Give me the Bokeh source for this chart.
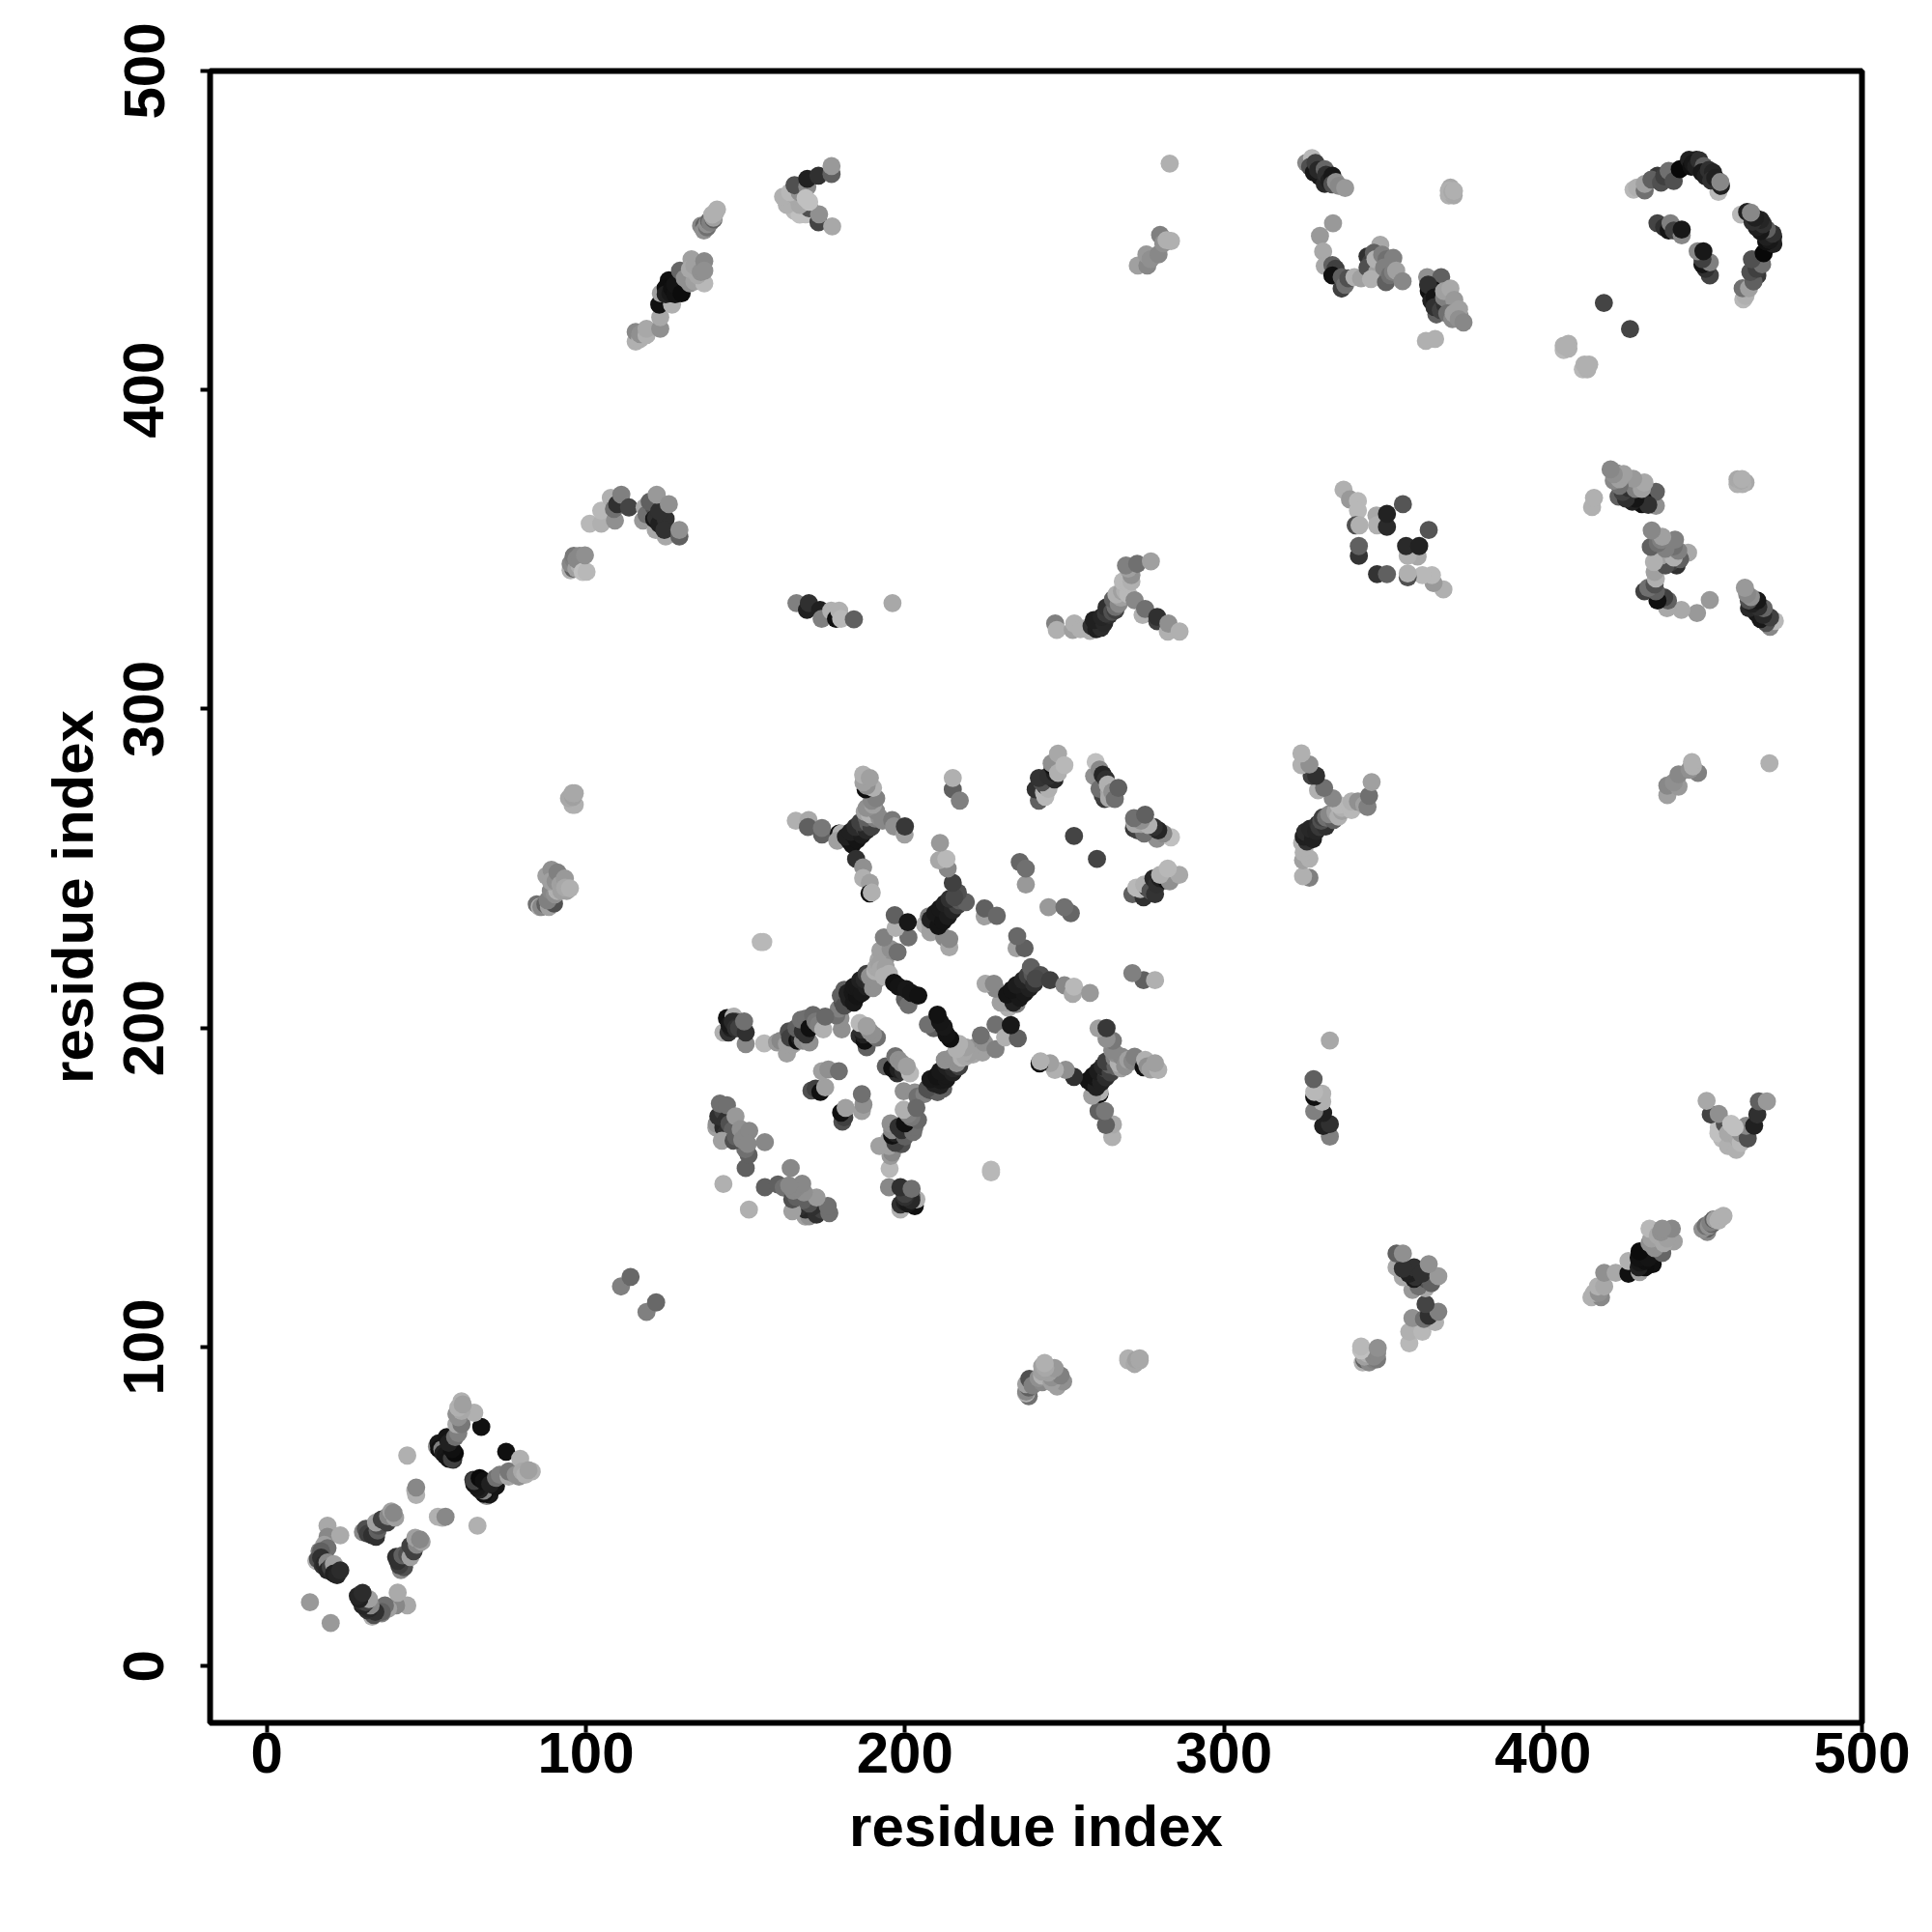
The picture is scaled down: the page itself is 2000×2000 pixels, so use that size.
from bokeh.embed import file_html
from bokeh.models import ColumnDataSource, FixedTicker
from bokeh.plotting import figure
from bokeh.resources import INLINE

# contacts above the diagonal: (residue i, residue j, grey level); the map is symmetric
near_a = [(13.5,20,0x99),(19,44,0xA8),(19,40.5,0x88),(18,38,0xA0),(19,37,0x70),(16.5,36,0x80),(15.5,33,0xB0),(16,33.5,0xA0),(16,33.5,0x50),(17,36,0x60),(17,34,0x30),(17.5,31.5,0x33),(18,32,0x28),(19,32.5,0x88),(19,30,0x25),(20.5,29.5,0x30),(20,31,0x40),(21,32,0xA0),(21,29,0x20),(22,28.5,0x25),(23,30,0x2C),(23,41,0xAA)]
near_b = [(30.1,42,0x88),(31,43,0x50),(31.6,41.5,0x40),(33,41,0x30),(34.2,40.5,0x30),(34.7,42.5,0x60),(35,44,0x50),(34.2,45,0xA0),(36,46,0x40),(37.7,45,0x40),(38,47,0x88),(40.2,46.5,0xA0),(39,48.5,0xA0),(39.7,48,0x88),(46.8,53.6,0xB0),(46.5,55,0xB0),(46.8,56,0x88),(44,66,0xB0)]
near_c = [(58.4,64.7,0x30),(53.3,68.8,0x90),(53.8,69.8,0x18),(54,68,0x10),(55,68,0x80),(55.3,66.7,0x20),(56,66,0x18),(57,65,0x15),(58,65,0x40),(58.9,66.7,0x0A),(58,68,0x10),(56.4,71.8,0x15),(57,70,0x20),(59,71.8,0x70),(60,73,0x80),(59.4,75.8,0xA8),(61,75.8,0x77),(67.2,75,0x10),(59.4,79,0x90),(60,78,0x90),(65,79.4,0xB0),(61,80,0xA8),(60,81,0xB0),(61,83,0xB0),(61.4,82,0xA0)]
near_d = [(111,119,0x80),(114,122,0x68)]
mid_a = [(84.6,238.8,0x70),(85.5,238,0xB0),(86,238,0x88),(87.3,238.8,0x60),(88.4,238,0xA0),(90,239,0x50),(88,240,0x80),(89.6,243.8,0x40),(89,243,0x88),(90.3,241.9,0x90),(91,243,0xB0),(87.6,247.7,0xA0),(89.2,249.6,0x90),(89,246,0xA0),(90.5,246,0x90),(91.1,248.8,0x80),(92,245,0xA0),(93.4,246.9,0x99),(92.3,243,0xA0),(94,243,0xA0),(93.5,244,0xA8),(95,243.8,0xB0),(95.8,270,0xB0),(96.5,270,0xB0),(94.7,272,0xA8),(96,272.5,0xA0),(95.8,273.6,0xA8),(96.5,273.6,0xA8)]
mid_b = [(95.2,343.5,0xB0),(96,344,0x60),(95.2,345.5,0x88),(96,347,0x80),(96.2,348,0x78),(97,344,0xA0),(98,345,0xB0),(97,347,0x88),(98,348,0x88),(99,343,0xC0),(100.2,343,0xB8),(99.7,348.2,0x90),(101.2,358.1,0xB8),(104.8,358.1,0xB0),(104.8,362.2,0xB8),(107.8,366.2,0xB0),(109.1,359.1,0x90),(108.8,362.7,0x70),(109.8,364.2,0x30),(111.1,367.2,0x80),(113.5,363.2,0x44),(117.9,359.1,0x99),(118.4,363.2,0xA8),(121.9,356.1,0xA8),(125,354.1,0xA8),(119,361,0x70),(121.4,363.2,0x50),(120,365,0x60),(121.4,359.6,0x18),(122,360,0x30),(123,358,0x20),(124,358,0x20),(125,359.6,0x30),(123,362,0x30),(124.6,356.1,0x30),(122.2,367.2,0x99),(126,364.2,0x90),(129.3,354.1,0x60),(129.3,356.1,0x90)]
top_a = [(115.6,415.2,0xB0),(115.6,418.2,0x88),(117,416,0xB0),(117,417.5,0x90),(119,417.2,0xB0),(119,419.2,0xA8),(123.3,419.2,0x90),(123.3,422.8,0xA8),(123,426.8,0x10),(127,426.8,0xB0),(123.5,430.3,0xA0),(126,434.4,0x10),(125,432,0x0E),(125,430,0x20),(126.5,430.3,0x18),(127,432,0x10),(128,430,0x12),(128,433,0x14),(130,430.3,0x0C),(129.5,437.4,0x66),(131,435,0x90),(132.6,433.4,0x90),(134,434,0xA0),(137.1,433.4,0xB8),(135,436,0xA8),(133.1,441,0xA0),(132.6,437.9,0xA8),(134,439,0xA0),(136,437,0x90),(137.1,440.4,0x88),(137.1,437.4,0x90),(136.1,451.5,0x88),(137.1,451.5,0x60),(137,450,0x90),(138,451,0x70),(138,452,0x90),(138.6,453,0x66),(139,452.5,0x80),(140,453.5,0x60),(140,454,0xA0),(139.6,455,0xB0),(140.5,455.5,0xB0),(141.1,456.6,0xB0)]
top_b = [(165.4,456.1,0xB8),(167,455,0xC0),(168.9,455.1,0xC0),(170,457,0x50),(172.9,452.6,0x44),(173.1,455.1,0x90),(177.2,451.3,0xA8),(163,458,0xB0),(167,458,0xA8),(170,459,0xC0),(161.8,460.6,0xB0),(165.4,461.1,0xA8),(164,462,0xB8),(167,462,0x90),(165.4,464.2,0x50),(169.4,463.7,0x88),(168.9,460.1,0xC0),(169.4,466.2,0x20),(172.9,467.2,0x30),(177,467.7,0x60),(177,470.2,0x99)]
row_a = [(166,333.2,0x80),(169.3,331.1,0x20),(169.9,333.2,0x30),(173.4,331.1,0x20),(173.9,328.3,0x80),(176.9,330.8,0xB0),(178.4,328.3,0x10),(179.4,330.8,0xB0),(180,328.3,0xB8),(184,328.1,0x60),(196.1,333.2,0xA8)]
fork_a = [(165.8,265,0xB0),(169.8,265.2,0xA8),(169.6,263,0x60),(174,260.7,0x60),(174,262.7,0x78),(179.3,261,0x10),(180,261,0xB0),(178.8,258.7,0xA0),(182.6,258.7,0x18),(183.5,257.5,0x14),(181.5,260,0x20),(184.2,260.2,0x18),(185,259,0x14),(183,261.5,0x20),(185.8,261.7,0x25),(186.5,260.5,0x1C),(184.5,263,0x2C),(187.4,262.7,0x40),(188,262,0x28),(186,264.5,0x40),(188.5,264.2,0x60),(189.5,263,0x40),(188,266,0x60),(190.7,265.7,0x80),(187.4,267.8,0xA0),(189,267,0xB0),(192,266,0x90),(191,268,0x88),(188,269,0x90),(190,270,0xA0),(189.6,271.3,0x88),(191,272,0x80),(187.7,274.8,0x10),(190,275.3,0xB0),(188,276,0x90),(187,277,0xA0),(186.9,279.4,0xB0),(189,278.4,0xA0),(193,265,0x88),(196,265.2,0x78),(196.6,263.2,0x90),(199.9,260.7,0xA0),(200,263.2,0x38),(184.7,253,0x30),(186.9,250.4,0x90),(186.9,247,0xB0),(189,245.5,0xA0),(188.9,242.2,0x10),(189.6,242.5,0xB0)]
fork_b = [(215,274.8,0x60),(215,278.4,0xB0),(217.2,271.3,0x80),(236,252,0x66),(237.9,245,0x99),(237.9,250,0x70),(253,260.2,0x44)]
fork_c = [(242,271.3,0x60),(241,274.8,0x30),(243.6,273.8,0xB0),(244,272.5,0xB8),(244,276,0x28),(245,275,0xB0),(243,277,0x50),(242,278.4,0x33),(246.9,277.9,0x28),(245,279,0x30),(247,280,0x20),(246.3,282,0x10),(246,283,0x90),(248,280,0xB0),(248,286,0xA8),(250,282.4,0xB8)]
fork_d = [(259.3,279,0x90),(259.8,283.4,0xC0),(261,281,0x88),(262.6,271.8,0x38),(262,273,0x40),(261,275,0x70),(262,279.4,0x25),(263,278,0x30),(264,274,0xA0),(264,272,0xA8),(263.6,276.3,0xB0),(265,274,0x90),(265.8,271.8,0x70),(266.9,275.3,0x60)]
cross_a = [(206.3,232.4,0xB0),(208,232.4,0xA0),(208,230,0xA0),(207.5,235,0x80),(212.3,228.4,0x88),(213.9,225.3,0xA8),(213.9,227.9,0x88),(209.6,233.4,0x18),(208,234,0x20),(210.5,232,0x14),(211.2,234.9,0x18),(209.5,236,0x18),(212,233.5,0x14),(212.8,237,0x20),(211,237.5,0x18),(213.5,235,0x1C),(214.4,239,0x30),(212.5,239,0x20),(215,237,0x24),(216.5,238.5,0x40),(214,240.5,0x30),(217,240,0x58),(219.1,239.5,0x60),(216.6,242.5,0x50),(215.5,241,0x48),(215,245.5,0x40),(213.4,250,0x88),(210.7,252.6,0xA8),(213,253,0xB8),(211,258,0x99)]
cross_b = [(225,235,0xA0),(225,237.5,0x60),(228.8,235.2,0x68)]
cross_c = [(191.7,221.3,0xA8),(193.9,221.8,0x90),(192.3,224.3,0xA0),(195.5,224.8,0x90),(197.7,223.8,0x70),(193.4,228.4,0x80),(201.1,228.4,0x70),(197.1,231.4,0xB0),(196.8,235.4,0x60),(200.9,233.2,0x18)]
core_a = [(180.2,199.6,0x90),(179.8,203.1,0x90),(178.5,204,0x70),(179.3,206.1,0x80),(180.5,208,0x50),(179.9,210.2,0x60),(181,207,0x50),(182.6,209.2,0x20),(181,212,0x60),(182,211,0x20),(184,208,0x18),(183.6,211.2,0x18),(185,210,0x14),(184,213,0x18),(185.3,212.7,0x18),(186.5,211,0x18),(186,215,0x20),(188,213,0x20),(187.4,215.2,0x28),(189.5,214,0x30),(188,217,0x40),(190,212.5,0x90),(189,216.2,0x90),(191,215,0x90),(190.7,217.8,0xB0),(191,219,0xA8),(192,220,0xA0),(192.3,218.3,0xA8),(194,219,0xA0),(193.4,216.2,0xB0),(195,217,0xB0),(200,209,0x60),(201.1,207.2,0x70),(196.6,214.2,0x10),(198,213,0x14),(200.4,212.2,0x18),(202,211,0x16),(204.2,210.2,0x12)]
core_b = [(144.2,203.1,0x10),(146.3,203.6,0xB0),(147,202,0x50),(143.1,198.6,0xB0),(144.7,198.6,0x30),(145.5,200,0x20),(145,201,0x18),(146,202,0x28),(147,200,0x30),(148,200,0x40),(150.1,195,0x88),(150.1,198.6,0x30),(149.6,202.1,0x70)]
core_c = [(155.9,195.2,0xB8),(159.9,195.5,0x99),(161,196,0x88),(163,192,0xA0),(163,195,0xA0),(165,195,0xA0),(163.6,199,0x50),(164,197,0x40),(166.3,196,0x10),(167,197,0x20),(168,196,0x88),(170.1,195.5,0x90),(166,200,0x60),(168,199,0x30),(169,198,0x30),(167.4,202.6,0x70),(169,203,0x70),(170.1,200,0x10),(171.2,204.1,0x68),(172,202,0x78),(173,201,0x80),(174.4,199.6,0xB0),(175,203.6,0x68)]
core_d = [(188,194,0x60),(185.8,197.6,0x30),(187.4,196,0x10),(187,198,0x20),(186.5,199.5,0x30),(191.2,197,0x70),(190,198,0x90),(189,199,0x90),(185.8,201.6,0xB8),(188,200.6,0xA0)]
core_e = [(170.7,180.4,0x50),(172,181,0x40),(173.5,180,0x10),(175,181.4,0xA0),(174,186.5,0xA0),(176,187,0x90),(179.3,186.5,0x70)]
core_f = [(143.1,151.1,0xB0),(150.1,156.1,0x60),(151,160.2,0x60),(150,162,0x70),(140.9,168.8,0xA0),(141,170,0x90),(143.1,168.8,0x28),(144,167,0x30),(141.5,172.3,0x30),(143,174,0x40),(144,171,0x30),(142,176.3,0x70),(144.2,175.8,0x70),(145,170,0x50),(146,168,0x60),(146.9,172.3,0x99),(142.6,164.7,0xA0),(146.3,164.7,0x50),(147,166,0x60),(148.5,168.3,0x90),(149,165,0x88),(150,166,0x88),(151.2,167.8,0x88),(150.7,163.7,0x88),(156.1,164.2,0x88),(154.8,227,0xB8),(155.6,227,0xB8)]
side_a = [(247.1,326.8,0x80),(247.6,324.8,0xB0),(252.6,324.8,0xA0),(253.1,326.8,0xB0),(255,325,0xB0),(256.7,325.3,0xB0),(258,324.5,0xB0),(258.5,326,0x30),(260,325,0x20),(260.2,326.3,0x20),(261,326,0x20),(261.5,325.5,0x2C),(259.2,327.9,0x20),(262.5,327,0x28),(261.7,328.9,0x25),(264,329.5,0x30),(263,330,0x38),(263.2,331.9,0x30),(265,330.5,0x50),(266,331,0x40),(266,332,0x70),(265.2,334.4,0x60),(267,333,0x88),(267.5,335,0xA0),(268,335,0xA0),(266.3,335.9,0xB0),(268,337,0xA0),(269,337,0xB0),(270,336,0xB8),(268.3,340,0xB8),(269.8,339.5,0xB8),(271,340,0xB0),(271,342,0x90),(270,344,0xA0),(269.3,345,0x80),(272.8,345.5,0x70),(277.1,346.3,0xA0),(272,334.1,0x88),(274.5,329.5,0xB0),(275.3,331.4,0x70),(279.1,327.5,0x40),(279.1,328.9,0x30),(282.4,324.3,0xB0),(282.6,326.8,0x90),(286.1,324.3,0xB0)]
side_b = [(273,439,0xA0),(276,439,0x88),(275.7,442.5,0x99),(277,441,0x90),(279.5,442.5,0x88),(280,448.6,0x80),(281,446,0x90),(282,447,0xB0),(283.4,446.7,0xB0),(283,471,0xB0)]
far_a = [(325.8,471.2,0x88),(327.6,472.7,0xB8),(327,470,0x50),(328.2,468.2,0x18),(328.7,471.2,0x40),(330,467,0x18),(329.5,469,0x28),(331.6,464.6,0x28),(331.6,469.2,0x66),(332,467.5,0x30),(333,465.5,0x20),(334,467.2,0x18),(334,464.5,0x50),(335.1,465.2,0x90),(336,464,0x88),(338,463.3,0x99),(370.5,461,0xB0),(371,463.5,0xA8),(372,461,0xA8),(370.5,462.5,0xB0),(371.6,462.1,0xA8),(372.1,462.4,0xB0)]
far_b = [(334.2,452.3,0x99),(330.1,448.3,0x99),(331.1,443.4,0xA8),(331.6,438.9,0xA8),(334,439.2,0x60),(335,438,0x40),(334,435.9,0x10),(336.9,431.8,0x40),(336.9,435.4,0x60),(338,433,0x70),(339,435,0x50),(340.9,435.4,0xB0),(343,435,0xA0),(349,445.5,0xA8),(345,441.9,0x30),(346,440,0x40),(347,443,0x60),(345,438.4,0x50),(348,437,0xA0),(347.5,441,0xB0),(346.1,434.8,0xB0),(350.8,433.8,0x60),(349.6,442.4,0x80),(351,441,0x70),(353.1,441.4,0x80),(350.2,438.4,0x80),(352,436,0x70),(353,437,0x80),(354,437.4,0xA0),(356,434.1,0x88)]
far_c = [(363.7,435.4,0x90),(368.1,435.4,0x60),(364.2,431,0x10),(365.8,431.3,0x10),(364,433,0x30),(366.6,423.7,0x60),(367,427.3,0x15),(365,428,0x20),(366,429,0x15),(366,426,0x30),(368,425,0x40),(369.3,426.8,0x30),(369,429,0x80),(369,431,0xA0),(371,431.8,0xA8),(372.2,428.3,0x99),(370,424,0x70),(371.6,422.2,0x88),(372,424,0xA0),(374,423,0x90),(373.7,425.3,0xA0),(373.6,422.2,0x90),(375.1,421.2,0x88),(363.3,415.4,0xB0),(366.2,416,0xB0)]
far_d = [(428.4,462.8,0xB8),(429.5,463.5,0xB0),(431.9,462.6,0x70),(431.9,464.6,0xA0),(435.9,467.2,0x38),(434,466,0x60),(437,465,0x50),(438,467,0x40),(439.4,468.7,0x70),(441,465.5,0x50),(442.9,469.2,0x08),(445.8,472.2,0x20),(446.5,470,0x10),(448.1,472.2,0x20),(447,471,0x18),(448,470,0x20),(449,472,0x30),(455,462.1,0xB8),(455.8,464,0x20),(450.4,470.2,0x60),(449.8,468.2,0x18),(451,467,0x20),(452,469,0x30),(453.3,468.2,0x25),(452.7,465.7,0x30),(454,466.5,0x20),(455.6,465.2,0x88)]
far_e = [(435.9,452.3,0x44),(438,451,0x30),(439.4,450,0x15),(440,452.3,0x80),(441,450,0x40),(443.5,448.5,0x88),(443.5,450.3,0x18),(419.1,427.3,0x44),(406.5,412.5,0xB8),(406.5,413.9,0xB0),(408,413,0xB0),(408,414.5,0xB0),(407.3,413.9,0xB0)]
knot_a = [(337.5,368.8,0xB0),(339.5,365.7,0x99),(342,365.2,0xB8),(342,362.2,0xB8),(341.3,357.6,0x50),(342.5,357.6,0xB0),(347.8,360.7,0xA8),(348,357.6,0xB0),(351.1,357.1,0x2A),(351.1,361.2,0x22),(356.1,364.2,0x55),(342.3,348,0x33),(342.3,351.1,0x60)]

clusters = [near_a, near_b, near_c, near_d, mid_a, mid_b, top_a, top_b, row_a, fork_a, fork_b, fork_c, fork_d,
            cross_a, cross_b, cross_c, core_a, core_b, core_c, core_d, core_e, core_f,
            side_a, side_b, far_a, far_b, far_c, far_d, far_e, knot_a]

tick_values = [0, 100, 200, 300, 400, 500]
x_title = "residue index"
y_title = "residue index"

xs, ys, cs = [], [], []
for c in clusters:
    for i, j, g in c:
        grey = "#%02x%02x%02x" % (g, g, g)
        xs += [i]
        ys += [j]
        cs += [grey]
for c in clusters:
    for i, j, g in c:
        grey = "#%02x%02x%02x" % (g, g, g)
        xs += [j]
        ys += [i]
        cs += [grey]

source = ColumnDataSource(dict(x=xs, y=ys, c=cs))

p = figure(width=1984, height=1983, x_range=(-17.8, 500), y_range=(-17.8, 500),
           min_border_left=217, min_border_right=57, min_border_top=73, min_border_bottom=200,
           output_backend="svg", toolbar_location=None)
p.scatter("x", "y", source=source, size=18.8, marker="circle", fill_color="c", line_color=None)

p.grid.visible = False
p.outline_line_color = "black"
p.outline_line_width = 6
p.background_fill_color = "white"
p.border_fill_color = "white"

for ax, title in ((p.xaxis[0], x_title), (p.yaxis[0], y_title)):
    ax.ticker = FixedTicker(ticks=tick_values)
    ax.axis_line_color = None
    ax.major_tick_in = 0
    ax.major_tick_out = 10
    ax.major_tick_line_width = 4
    ax.major_tick_line_color = "black"
    ax.minor_tick_line_color = None
    ax.axis_label = title
    ax.axis_label_text_font = "Liberation Sans"
    ax.axis_label_text_font_style = "bold"
    ax.axis_label_text_font_size = "60px"
    ax.axis_label_text_color = "black"
    ax.major_label_text_font = "Liberation Sans"
    ax.major_label_text_font_style = "bold"
    ax.major_label_text_font_size = "60px"
    ax.major_label_text_color = "black"

p.xaxis[0].major_label_standoff = 0
p.xaxis[0].axis_label_standoff = 19
p.yaxis[0].major_label_orientation = "vertical"
p.yaxis[0].major_label_standoff = 38
p.yaxis[0].axis_label_standoff = 17

open("out.html", "w").write(file_html(p, INLINE))
